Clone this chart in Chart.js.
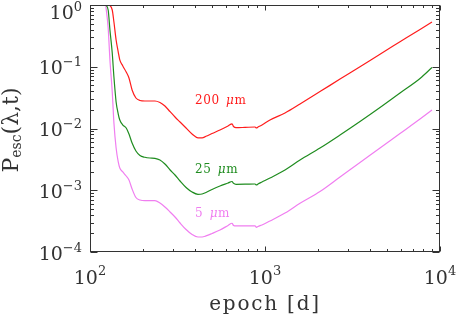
<!DOCTYPE html>
<html><head><meta charset="utf-8">
<script src="https://cdn.jsdelivr.net/npm/chart.js@4"></script>
<style>html,body{margin:0;padding:0;background:#fff}</style>
</head><body>
<canvas id="c" width="457" height="316"></canvas>
<script>
// ---- data ----
const epochs = [123,127,130,134,137,141,145,148,154,161,167,174,183,193,206,220,235,251,268,287,306,327,354,383,414,437,460,498,553,615,648,661,683,769,877,894,912,961,1068,1301,1585,2062,2683,3490,4541,5908,7688,9000];
const pesc200 = [1,1,0.981,0.830,0.530,0.271,0.173,0.129,
  0.103,0.0822,0.0658,0.0420,0.0312,0.0284,0.0279,0.0279,
  0.0279,0.0264,0.0231,0.0187,0.01535,0.01274,0.01019,0.00815,
  0.00707,0.00707,0.00747,0.00830,0.00946,0.01098,0.01191,0.01077,
  0.0103,0.01042,0.01057,0.01019,0.01057,0.01139,0.01373,0.01782,
  0.02493,0.0396,0.0631,0.1002,0.1597,0.2535,0.4026,0.5324];
const pesc25 = [1,0.830,0.394,0.167,0.0682,0.0269,0.01717,0.01373,
  0.01139,0.01019,0.00815,0.00582,0.00432,0.00365,0.00342,0.00333,
  0.00329,0.00309,0.00266,0.00213,0.001766,0.001412,0.001108,0.000937,
  0.000860,0.000870,0.000920,0.001028,0.001172,0.001310,0.001386,0.001296,
  0.001249,0.001253,0.001262,0.001216,0.001262,0.001360,0.001579,0.00213,
  0.00309,0.00483,0.00785,0.01298,0.02188,0.03757,0.0645,0.0972];
const pesc5 = [1,0.424,0.1286,0.0390,0.01228,0.00483,0.00287,0.00229,
  0.001975,0.001701,0.001466,0.001047,0.000763,0.000695,0.000677,0.000677,
  0.000677,0.000621,0.000536,0.000444,0.000369,0.000295,0.000231,0.000192,
  0.000175,0.000175,0.000182,0.000199,0.000227,0.000269,0.000292,0.000269,
  0.000264,0.000264,0.000264,0.000251,0.000259,0.000274,0.000318,0.000428,
  0.000615,0.000954,0.001639,0.002814,0.00483,0.00830,0.01425,0.01994];
const seriesSizes = ['200','25','5'];
const seriesUnit = 'μm';
const xTickValues = [100,1000,10000];
const xTickExps = ['2','3','4'];
const yTickValues = [1,0.1,0.01,0.001,0.0001];
const yTickExps = ['0','−1','−2','−3','−4'];
const xTitle = 'epoch [d]';

// ---- styling / placement (not data) ----
const colors = ['#ff1c1c','#1f8c1f','#f07ef0'];
const labelAnchor = [{t:398,v:0.029},{t:398,v:0.00229},{t:398,v:0.000444}];
const axisColor = '#333';
const textColor = '#333';
const SERIF = '"DejaVu Serif", serif';

const series = [pesc200, pesc25, pesc5];
const datasets = series.map((vals,i)=>({
  label: seriesSizes[i]+' '+seriesUnit,
  data: epochs.map((t,k)=>({x:t,y:vals[k]})),
  borderColor: colors[i], borderWidth: 1.2, pointRadius: 0,
  cubicInterpolationMode: 'monotone', fill:false
}));

function minorTicks(lo, hi){
  const out=[];
  for(let d=lo; d<hi; d*=10){ for(let k=2;k<=9;k++) out.push(d*k); }
  return out;
}

const decor = {
  id:'decor',
  afterDraw(chart){
    const {ctx, chartArea:a, scales:{x,y}} = chart;
    ctx.save();
    ctx.strokeStyle = axisColor; ctx.lineWidth = 1;
    ctx.strokeRect(Math.round(a.left)+0.5, Math.round(a.top)+0.5, Math.round(a.right-a.left)-1, Math.round(a.bottom-a.top)-1);
    ctx.beginPath();
    const xMaj = xTickValues, xMin = minorTicks(100,10000);
    const yMaj = yTickValues, yMin = minorTicks(1e-4,1);
    const L=Math.round(a.left)+0.5, R=Math.round(a.right)-0.5, T=Math.round(a.top)+0.5, B=Math.round(a.bottom)-0.5;
    const xt=(v,len)=>{const p=Math.round(x.getPixelForValue(v))+0.5; ctx.moveTo(p,B); ctx.lineTo(p,B-len); ctx.moveTo(p,T); ctx.lineTo(p,T+len);};
    const yt=(v,len)=>{const p=Math.round(y.getPixelForValue(v))+0.5; ctx.moveTo(L,p); ctx.lineTo(L+len,p); ctx.moveTo(R,p); ctx.lineTo(R-len,p);};
    xMaj.forEach(v=>xt(v,5)); xMin.forEach(v=>xt(v,2.5));
    yMaj.forEach(v=>yt(v,7)); yMin.forEach(v=>yt(v,3.5));
    ctx.stroke();

    ctx.fillStyle = textColor;
    ctx.textBaseline = 'alphabetic';
    yMaj.forEach((v,i)=>{
      const p = y.getPixelForValue(v);
      ctx.font = '13px '+SERIF; const ws = ctx.measureText(yTickExps[i]).width;
      ctx.font = '19px '+SERIF; const wm = ctx.measureText('10').width;
      const right = 82, base = Math.max(p+7.5, 19);
      ctx.textAlign='left';
      ctx.fillText('10', right-ws-wm, base);
      ctx.font = '13px '+SERIF; ctx.fillText(yTickExps[i], right-ws, base-8);
    });
    xMaj.forEach((v,i)=>{
      const p = x.getPixelForValue(v);
      ctx.font = '13px '+SERIF; const ws = ctx.measureText(xTickExps[i]).width;
      ctx.font = '19px '+SERIF; const wm = ctx.measureText('10').width;
      const left = p-(ws+wm)/2, base = 284;
      ctx.textAlign='left';
      ctx.fillText('10', left, base);
      ctx.font = '13px '+SERIF; ctx.fillText(xTickExps[i], left+wm, base-9);
    });
    ctx.font = '20px '+SERIF; ctx.letterSpacing='1.8px'; ctx.textAlign='center';
    ctx.fillText(xTitle, (a.left+a.right)/2, 310);
    ctx.letterSpacing='0px';
    ctx.save();
    ctx.translate(18, (a.top+a.bottom)/2+1.5);
    ctx.rotate(-Math.PI/2);
    ctx.textAlign='left';
    ctx.font='22px '+SERIF; const w1=ctx.measureText('P').width, w3=ctx.measureText('(λ,t)').width;
    ctx.font='14px '+SERIF; const w2=ctx.measureText('esc').width;
    let s = -(w1+w2+w3)/2;
    ctx.font='22px '+SERIF; ctx.fillText('P', s, 0); s+=w1;
    ctx.font='14px '+SERIF; ctx.fillText('esc', s, 3); s+=w2;
    ctx.font='22px '+SERIF; ctx.fillText('(λ,t)', s, 0);
    ctx.restore();
    labelAnchor.forEach((an,i)=>{
      const px = x.getPixelForValue(an.t), py = y.getPixelForValue(an.v)+4.5;
      ctx.fillStyle = colors[i]; ctx.textAlign='left';
      ctx.font = '12px '+SERIF; ctx.letterSpacing='0.6px';
      const num = seriesSizes[i]+' ';
      ctx.fillText(num, px, py); let cx = px+ctx.measureText(num).width+2;
      ctx.font = 'italic 12px '+SERIF; ctx.fillText(seriesUnit[0], cx, py); cx += ctx.measureText(seriesUnit[0]).width;
      ctx.font = '12px '+SERIF; ctx.fillText(seriesUnit.slice(1), cx, py);
      ctx.letterSpacing='0px';
    });
    ctx.restore();
  }
};

new Chart(document.getElementById('c'), {
  type:'line',
  data:{datasets},
  options:{
    responsive:false, devicePixelRatio:1, animation:false,
    layout:{padding:{left:0,top:5,right:17,bottom:0}},
    plugins:{legend:{display:false}, tooltip:{enabled:false}},
    scales:{
      x:{type:'logarithmic', min:100, max:10000,
         ticks:{display:false}, grid:{display:false}, border:{display:false},
         afterFit(s){ s.height = 64; }},
      y:{type:'logarithmic', min:1e-4, max:1,
         ticks:{display:false}, grid:{display:false}, border:{display:false},
         afterFit(s){ s.width = 90; }}
    }
  },
  plugins:[decor]
});
</script>
</body></html>
